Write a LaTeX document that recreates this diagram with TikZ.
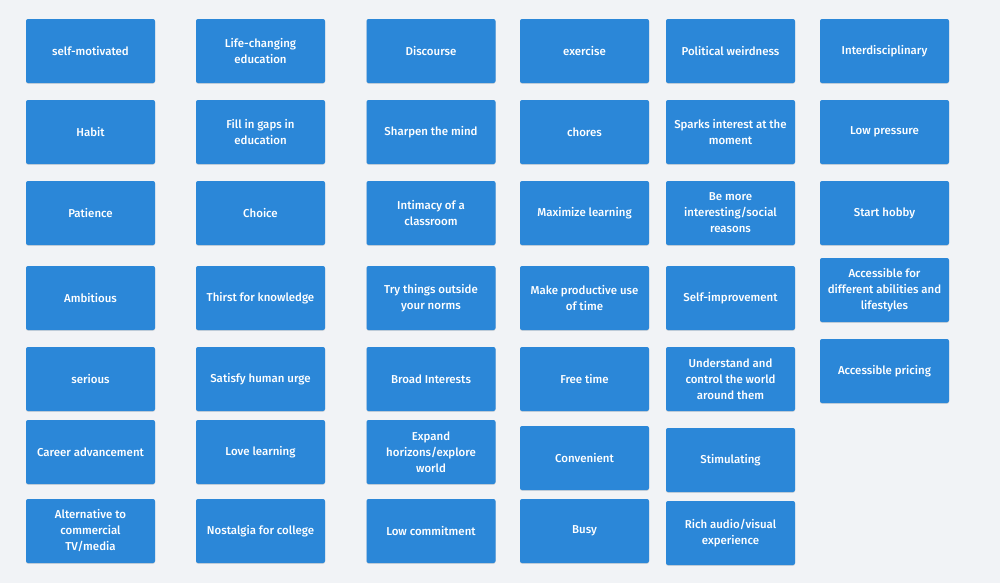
\documentclass[tikz,border=0pt]{standalone}
\usepackage{fontspec}
\setmainfont{Fira Sans}[UprightFont = * Medium]
\definecolor{bgc}{HTML}{F1F3F6}
\definecolor{cardc}{HTML}{2B87D8}
\tikzset{
  card/.style={fill=cardc, rounded corners=1.5pt, minimum width=96.75pt, minimum height=48pt,
    inner sep=2pt, align=center, text=white, font=\fontsize{8.6pt}{12pt}\selectfont,
    drop shadow={shadow xshift=0pt, shadow yshift=-0.6pt, opacity=0.12, fill=black}}
}
\usetikzlibrary{shadows}
\begin{document}
\begin{tikzpicture}[x=0.75pt,y=-0.75pt]
\fill[bgc] (0,0) rectangle (1000,583);
\useasboundingbox (0,0) rectangle (1000,583);
% column 1
\node[card] (a1) at (90.5,51) {self-motivated};
\node[card] (a2) at (90.5,132) {Habit};
\node[card] (a3) at (90.5,213) {Patience};
\node[card] (a4) at (90.5,298) {Ambitious};
\node[card] (a5) at (90.5,379) {serious};
\node[card] (a6) at (90.5,452) {Career advancement};
\node[card] (a7) at (90.5,531) {Alternative to\\commercial\\TV/media};
% column 2
\node[card] (b1) at (260.5,51) {Life-changing\\education};
\node[card] (b2) at (260.5,132) {Fill in gaps in\\education};
\node[card] (b3) at (260.5,213) {Choice};
\node[card] (b4) at (260.5,298) {Thirst for knowledge};
\node[card] (b5) at (260.5,379) {Satisfy human urge};
\node[card] (b6) at (260.5,452) {Love learning};
\node[card] (b7) at (260.5,531) {Nostalgia for college};
% column 3
\node[card] (c1) at (431,51) {Discourse};
\node[card] (c2) at (431,132) {Sharpen the mind};
\node[card] (c3) at (431,213) {Intimacy of a\\classroom};
\node[card] (c4) at (431,298) {Try things outside\\your norms};
\node[card] (c5) at (431,379) {Broad Interests};
\node[card] (c6) at (431,452) {Expand\\horizons/explore\\world};
\node[card] (c7) at (431,531) {Low commitment};
% column 4
\node[card] (d1) at (584.5,51) {exercise};
\node[card] (d2) at (584.5,132) {chores};
\node[card] (d3) at (584.5,213) {Maximize learning};
\node[card] (d4) at (584.5,298) {Make productive use\\of time};
\node[card] (d5) at (584.5,379) {Free time};
\node[card] (d6) at (584.5,458) {Convenient};
\node[card] (d7) at (584.5,531) {Busy};
% column 5
\node[card] (e1) at (730.5,51) {Political weirdness};
\node[card] (e2) at (730.5,132) {Sparks interest at the\\moment};
\node[card] (e3) at (730.5,213) {Be more\\interesting/social\\reasons};
\node[card] (e4) at (730.5,298) {Self-improvement};
\node[card] (e5) at (730.5,379) {Understand and\\control the world\\around them};
\node[card] (e6) at (730.5,460) {Stimulating};
\node[card] (e7) at (730.5,533) {Rich audio/visual\\experience};
% column 6
\node[card] (f1) at (884.5,51) {Interdisciplinary};
\node[card] (f2) at (884.5,132) {Low pressure};
\node[card] (f3) at (884.5,213) {Start hobby};
\node[card] (f4) at (884.5,290) {Accessible for\\different abilities and\\lifestyles};
\node[card] (f5) at (884.5,371) {Accessible pricing};
\end{tikzpicture}
\end{document}
